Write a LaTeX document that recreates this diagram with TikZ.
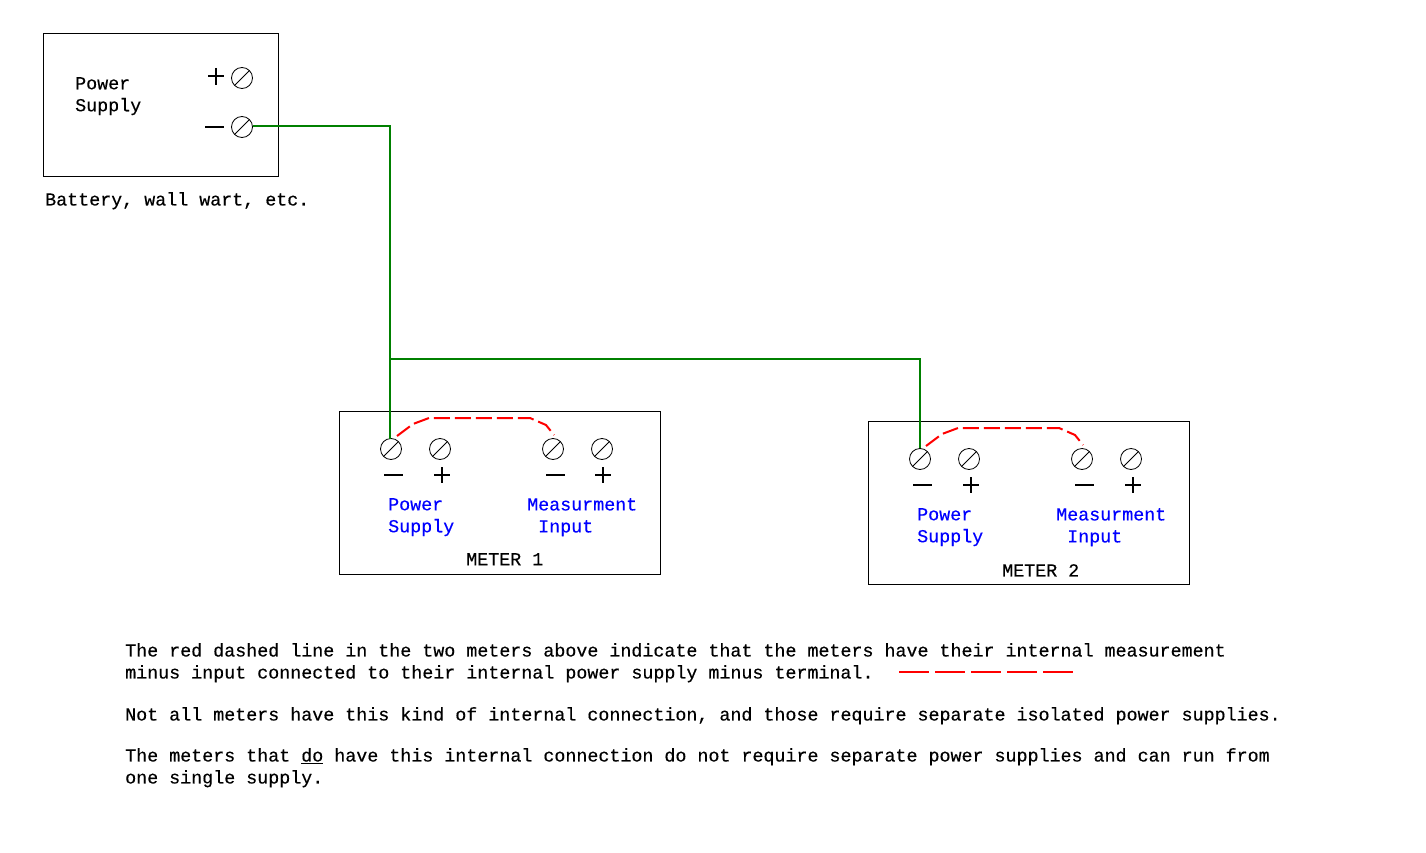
\documentclass[tikz,border=0pt]{standalone}
\usepackage{fontspec}
\setmainfont{Liberation Mono}[FakeBold=0.35]
\definecolor{wiregreen}{RGB}{0,128,0}
\tikzset{screw/.style={circle, draw, line width=0.8pt, minimum size=21pt, inner sep=0pt,
         path picture={\draw [line width=0.8pt] (path picture bounding box.south west) -- (path picture bounding box.north east);}},
         box/.style={draw, line width=1pt, inner sep=0pt},
         lbl/.style={anchor=north west, inner sep=0pt, align=left, font=\fontsize{18.34}{22}\selectfont},
         wire/.style={wiregreen, line width=2pt},
         jumper/.style={red, line width=2pt, dash pattern=on 16pt off 5pt},
         sign/.style={line width=2pt}}

\begin{document}
\begin{tikzpicture}[x=1pt,y=-1pt]
\fill [white] (0,0) rectangle (1426,853);
\useasboundingbox (0,0) rectangle (1426,853);

% power supply
\node (psbox) [box, minimum width=235pt, minimum height=142.5pt] at (161,105) {};
\node (pslabel) [lbl] at (75,77) {Power\\Supply};
\node (pscaption) [lbl] at (45,192) {Battery, wall wart, etc.};
\node (psplus) [screw] at (242,78) {};
\node (psminus) [screw] at (242,127) {};
\draw [sign] (208,76) -- (224,76) (216,68) -- (216,85);
\draw [sign] (205,127) -- (224,127);

% meter 1
\node (mone) [box, minimum width=321pt, minimum height=163pt] at (500,493) {};
\node (moneminus) [screw] at (391,449) {};
\node (moneplus) [screw] at (440,449) {};
\node (moneinminus) [screw] at (553,449) {};
\node (moneinplus) [screw] at (602,449) {};
\draw [sign] (384,475) -- (403,475);
\draw [sign] (434,475) -- (450,475) (442,467) -- (442,483);
\draw [sign] (546,475) -- (565,475);
\draw [sign] (595,475) -- (611,475) (603,467) -- (603,483);
\node (monepower) [lbl, blue] at (388,498) {Power\\Supply};
\node (monemeas) [lbl, blue] at (527,498) {Measurment\\\ Input};
\node (monename) [lbl] at (466,553) {METER 1};
\draw [jumper] ([shift={(6,-13)}]moneminus.center) -- ++(16,-12) -- ++(16,-6) -- ++(101,0) -- ++(16,7) -- ++(8,10);

% meter 2
\node (mtwo) [box, minimum width=321pt, minimum height=163pt] at (1029,503) {};
\node (mtwominus) [screw] at (920,459) {};
\node (mtwoplus) [screw] at (969,459) {};
\node (mtwoinminus) [screw] at (1082,459) {};
\node (mtwoinplus) [screw] at (1131,459) {};
\draw [sign] (913,485) -- (932,485);
\draw [sign] (963,485) -- (979,485) (971,477) -- (971,493);
\draw [sign] (1075,485) -- (1094,485);
\draw [sign] (1125,485) -- (1141,485) (1133,477) -- (1133,493);
\node (mtwopower) [lbl, blue] at (917,508) {Power\\Supply};
\node (mtwomeas) [lbl, blue] at (1056,508) {Measurment\\\ Input};
\node (mtwoname) [lbl] at (1002,564) {METER 2};
\draw [jumper] ([shift={(6,-13)}]mtwominus.center) -- ++(16,-12) -- ++(16,-6) -- ++(101,0) -- ++(16,7) -- ++(8,10);

% wiring
\coordinate (start) at ([yshift=0.7pt]psminus.east);
\coordinate (drop) at (389.7,439);
\coordinate (tee) at (389.7,359);
\draw [wire] (start) -| (drop);
\draw [wire] (tee) -| (mtwominus.north);

% notes
\node (noteone) [lbl] at (125,643) {The red dashed line in the two meters above indicate that the meters have their internal measurement\\minus input connected to their internal power supply minus terminal.};
\coordinate (keyleft) at (899,672);
\coordinate (keyright) at (1073,672);
\draw [red, line width=2pt, dash pattern=on 30pt off 6pt] (keyleft) -- (keyright);
\node (notetwo) [lbl] at (125,707) {Not all meters have this kind of internal connection, and those require separate isolated power supplies.};
\node (notethree) [lbl] at (125,748) {The meters that \underline{do} have this internal connection do not require separate power supplies and can run from\\one single supply.};
\end{tikzpicture}
\end{document}
